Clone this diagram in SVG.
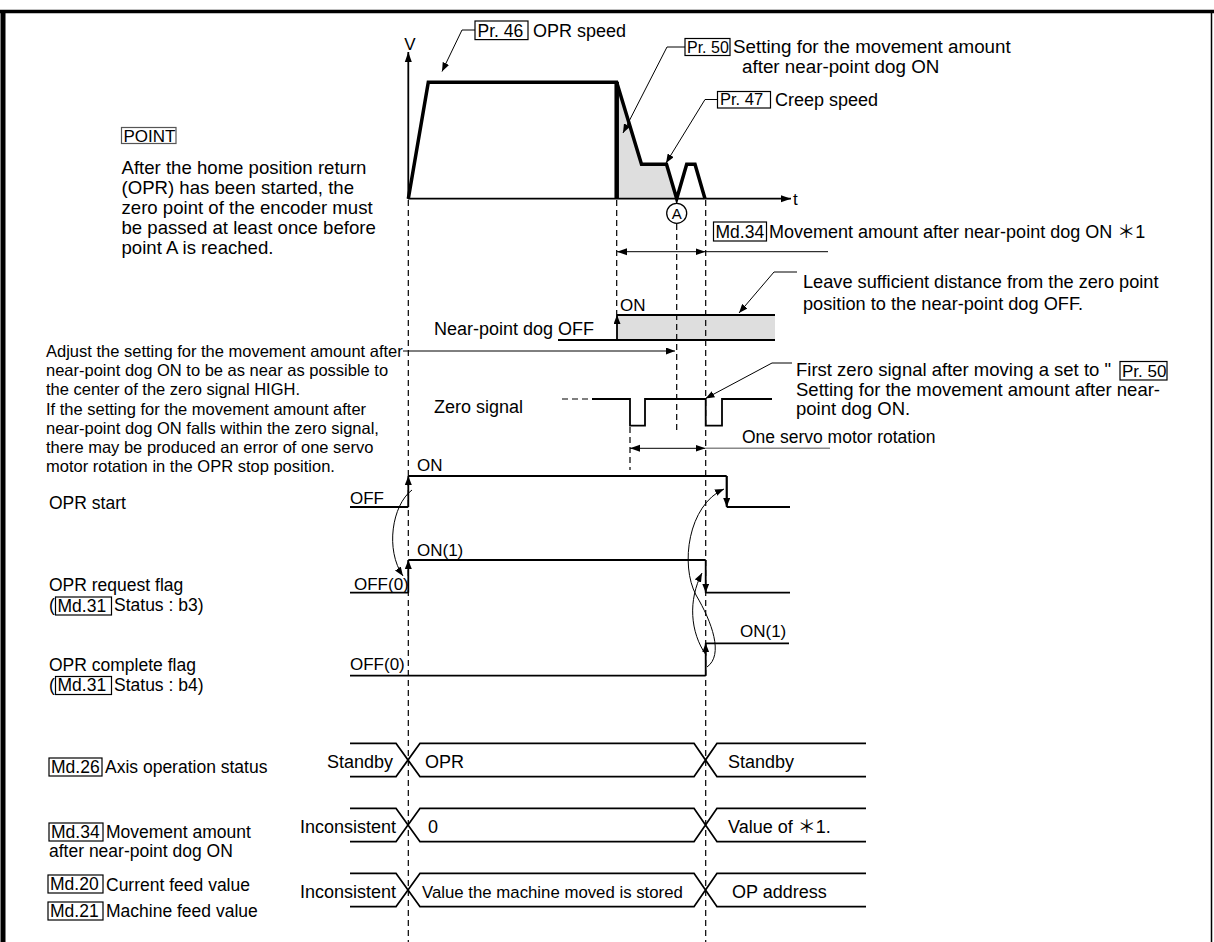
<svg xmlns="http://www.w3.org/2000/svg" width="1214" height="942" viewBox="0 0 1214 942" font-size="17.5">
<defs>
<style>
text{font-family:"Liberation Sans",Arial,"Noto Sans CJK JP",sans-serif;fill:#000}
.s{fill:none;stroke:#000;stroke-width:1.8}
.thin{fill:none;stroke:#000;stroke-width:1}
.dash{fill:none;stroke:#000;stroke-width:1.2;stroke-dasharray:6 4}
.box{fill:#fff;stroke:#000;stroke-width:1.2}
.prof{fill:none;stroke:#000;stroke-width:3.5;stroke-linejoin:miter}
.gray{fill:#dedede;stroke:none}
</style>
<marker id="ah" markerUnits="userSpaceOnUse" markerWidth="10" markerHeight="8" refX="10" refY="4" orient="auto-start-reverse"><path d="M0,0.5 L10,4 L0,7.5 z" fill="#000"/></marker>
<marker id="sa" markerUnits="userSpaceOnUse" markerWidth="9" markerHeight="7" refX="9" refY="3.5" orient="auto"><path d="M0,0 L9,3.5 L0,7 z" fill="#000"/></marker>
</defs>
<rect width="1214" height="942" fill="#fff"/>
<g id="frame">
<line x1="0" y1="11.5" x2="1214" y2="11.5" stroke="#000" stroke-width="3.5"/>
<line x1="3" y1="10" x2="3" y2="942" stroke="#000" stroke-width="5"/>
<line x1="1211.5" y1="11" x2="1211.5" y2="942" stroke="#000" stroke-width="1.5"/>
</g>

<g id="speed-chart">
<polygon class="gray" points="617,84 641.5,164.3 666.5,164.3 676.7,198.7 617,198.7"/>
<line class="s" x1="408.3" y1="199" x2="408.3" y2="52" stroke-width="1.5" marker-end="url(#ah)"/>
<line class="s" x1="408" y1="198.7" x2="791" y2="198.7" stroke-width="1.5" marker-end="url(#ah)"/>
<text x="410" y="50" text-anchor="middle" font-size="17">V</text>
<text x="793" y="205" font-size="17">t</text>
<polyline class="prof" points="408.3,198.7 428.3,82.3 616.7,82.3 641.5,164.3 666.5,164.3 676.7,198.7 686.7,164.3 695,164.3 705,198.7"/>
<line x1="616.7" y1="82" x2="616.7" y2="199" stroke="#000" stroke-width="4.5"/>
<circle cx="676.7" cy="213.3" r="10" fill="#fff" stroke="#000" stroke-width="1.3"/>
<text x="676.7" y="219" text-anchor="middle" font-size="15">A</text>
</g>

<g id="label-pr46">
<rect class="box" x="475" y="21" width="53" height="18.6"/>
<text x="477.5" y="36.5" font-size="17.5">Pr. 46</text>
<text x="533" y="37" font-size="18">OPR speed</text>
<polyline class="thin" points="475,30 462,30 442,71.5" marker-end="url(#sa)"/>
</g>

<g id="label-pr50">
<rect class="box" x="685" y="38.5" width="45" height="17"/>
<text x="687" y="52.5" font-size="16">Pr. 50</text>
<text x="733" y="53" font-size="18.8">Setting for the movement amount</text>
<text x="742" y="73" font-size="18.8">after near-point dog ON</text>
<polyline class="thin" points="685,47 667,47 623,133" marker-end="url(#sa)"/>
</g>

<g id="label-pr47">
<rect class="box" x="717.5" y="91.5" width="53" height="16.5"/>
<text x="720" y="105" font-size="16.5">Pr. 47</text>
<text x="775" y="106" font-size="18">Creep speed</text>
<polyline class="thin" points="717.5,99.5 705,99.5 666,163" marker-end="url(#sa)"/>
</g>

<g id="point-note">
<rect x="121.5" y="127.5" width="54.5" height="16" fill="#fff" stroke="#555" stroke-width="1.2"/>
<text x="123.5" y="141.5" font-size="17">POINT</text>
<text x="121.5" y="174" font-size="18.6">After the home position return</text>
<text x="121.5" y="194" font-size="18.6">(OPR) has been started, the</text>
<text x="121.5" y="214" font-size="18.6">zero point of the encoder must</text>
<text x="121.5" y="234" font-size="18.6">be passed at least once before</text>
<text x="121.5" y="254" font-size="18.6">point A is reached.</text>
</g>

<g id="md34-dimension">
<rect class="box" x="713.5" y="222" width="53" height="19"/>
<text x="715.5" y="237.5" font-size="17.5">Md.34</text>
<text x="769" y="238" font-size="18">Movement amount after near-point dog ON ＊1</text>
</g>

<g id="note-leave">
<text x="803" y="288" font-size="18.2">Leave sufficient distance from the zero point</text>
<text x="803" y="310" font-size="18.2">position to the near-point dog OFF.</text>
</g>

<g id="near-point-dog">
<text x="434" y="335" font-size="18">Near-point dog OFF</text>
<rect class="gray" x="617" y="315" width="158" height="25"/>
<line class="s" x1="617" y1="315" x2="775" y2="315" stroke-width="1.5"/>
<line class="s" x1="558" y1="340" x2="775" y2="340" stroke-width="1.5"/>
<text x="620" y="311" font-size="17">ON</text>
</g>

<g id="note-adjust">
<text x="46" y="357" font-size="16.5">Adjust the setting for the movement amount after</text>
<text x="46" y="376.2" font-size="16.5">near-point dog ON to be as near as possible to</text>
<text x="46" y="395.4" font-size="16.5">the center of the zero signal HIGH.</text>
<text x="46" y="414.6" font-size="16.5">If the setting for the movement amount after</text>
<text x="46" y="433.8" font-size="16.5">near-point dog ON falls within the zero signal,</text>
<text x="46" y="453" font-size="16.5">there may be produced an error of one servo</text>
<text x="46" y="472.2" font-size="16.5">motor rotation in the OPR stop position.</text>
</g>

<g id="zero-signal">
<text x="434" y="413" font-size="18">Zero signal</text>
<line class="dash" x1="562" y1="399" x2="592" y2="399" stroke-width="1.3"/>
<polyline class="s" stroke-width="2.2" points="592,399 630,399 630,425.7 645,425.7 645,399 705.7,399 705.7,425.7 722,425.7 722,399 772,399"/>
</g>

<g id="note-first-zero">
<text x="796" y="376" font-size="18.5">First zero signal after moving a set to " </text>
<rect class="box" x="1120" y="361.5" width="47" height="18.5"/>
<text x="1122" y="376.5" font-size="17">Pr. 50</text>
<text x="796" y="395.5" font-size="18.5">Setting for the movement amount after near-</text>
<text x="796" y="415" font-size="18.5">point dog ON.</text>
</g>

<g id="label-one-rotation">
<text x="742" y="443" font-size="17.5">One servo motor rotation</text>
</g>

<g id="opr-start">
<text x="49" y="509" font-size="17.5">OPR start</text>
<text x="350" y="503.5" font-size="17">OFF</text>
<text x="417" y="471" font-size="17">ON</text>
<polyline class="s" points="350,507 408.3,507"/>
<polyline class="s" points="726.7,476 726.7,506"/>
<polyline class="s" points="408.3,476 726.7,476"/>
<polyline class="s" points="726.7,507 790,507"/>
</g>

<g id="opr-request-flag">
<text x="49" y="591" font-size="17.5">OPR request flag</text>
<text x="49" y="611" font-size="17.5">(</text>
<rect class="box" x="55.5" y="597" width="56" height="18"/>
<text x="57.5" y="611.5" font-size="17.5">Md.31</text>
<text x="114" y="611" font-size="17.5">Status : b3)</text>
<text x="354" y="589.5" font-size="17">OFF(0)</text>
<text x="417" y="556" font-size="17">ON(1)</text>
<polyline class="s" points="350,592.7 408.3,592.7"/>
<polyline class="s" points="408.3,560 705.7,560"/>
<polyline class="s" points="705.7,592.7 790,592.7"/>
</g>

<g id="opr-complete-flag">
<text x="49" y="671" font-size="17.5">OPR complete flag</text>
<text x="49" y="690.5" font-size="17.5">(</text>
<rect class="box" x="55.5" y="676.5" width="56" height="18"/>
<text x="57.5" y="691" font-size="17.5">Md.31</text>
<text x="114" y="690.5" font-size="17.5">Status : b4)</text>
<text x="350" y="670" font-size="17">OFF(0)</text>
<text x="740" y="637" font-size="17">ON(1)</text>
<polyline class="s" points="350,675.7 705.7,675.7"/>
<polyline class="s" points="705.7,643.3 789,643.3"/>
</g>

<g id="row-md26">
<rect class="box" x="49" y="758" width="53" height="18"/>
<text x="51" y="772.5" font-size="17.5">Md.26</text>
<text x="105" y="773" font-size="17.5">Axis operation status</text>
<path class="s" d="M350,743.3 H396 L420,776.7 H694 L717,743.3 H866 M350,776.7 H396 L420,743.3 H694 L717,776.7 H866"/>
<text x="393" y="768" font-size="18" text-anchor="end">Standby</text>
<text x="425" y="768" font-size="18">OPR</text>
<text x="728" y="768" font-size="18">Standby</text>
</g>

<g id="row-md34">
<rect class="box" x="49" y="823" width="54" height="18"/>
<text x="51" y="837.5" font-size="17.5">Md.34</text>
<text x="106" y="838" font-size="17.5">Movement amount</text>
<text x="49" y="857" font-size="17.5">after near-point dog ON</text>
<path class="s" d="M350,808.3 H396 L420,841.7 H694 L717,808.3 H866 M350,841.7 H396 L420,808.3 H694 L717,841.7 H866"/>
<text x="396" y="833" font-size="18" text-anchor="end">Inconsistent</text>
<text x="428" y="833" font-size="18">0</text>
<text x="728" y="833" font-size="18">Value of ＊1.</text>
</g>

<g id="row-md20-21">
<rect class="box" x="48" y="875" width="55" height="18"/>
<text x="50" y="889.5" font-size="17.5">Md.20</text>
<text x="106" y="891" font-size="17.5">Current feed value</text>
<rect class="box" x="48" y="902" width="55" height="18"/>
<text x="50" y="916.5" font-size="17.5">Md.21</text>
<text x="106" y="917" font-size="17.5">Machine feed value</text>
<path class="s" d="M350,873.3 H396 L420,906.7 H694 L717,873.3 H866 M350,906.7 H396 L420,873.3 H694 L717,906.7 H866"/>
<text x="396" y="898" font-size="18" text-anchor="end">Inconsistent</text>
<text x="422" y="898" font-size="16.8">Value the machine moved is stored</text>
<text x="732" y="898" font-size="18">OP address</text>
</g>

<g id="connectors">
<line class="dash" x1="408.3" y1="200" x2="408.3" y2="942"/>
<line class="dash" x1="616.7" y1="200" x2="616.7" y2="315"/>
<line class="dash" x1="676.7" y1="224" x2="676.7" y2="431"/>
<line class="dash" x1="705.7" y1="200" x2="705.7" y2="942"/>
<line class="dash" x1="630" y1="427" x2="630" y2="470"/>
<line class="thin" x1="617" y1="251.7" x2="705.5" y2="251.7" marker-start="url(#ah)" marker-end="url(#ah)" stroke-width="1.3"/>
<line class="thin" x1="705.5" y1="251.7" x2="828" y2="251.7" stroke-width="1.3"/>
<polyline class="thin" points="797,272 774,272 739,313" marker-end="url(#sa)"/>
<line class="s" x1="617" y1="340" x2="617" y2="315" stroke-width="1.5" marker-end="url(#sa)"/>
<line class="thin" x1="403" y1="351" x2="675" y2="351" stroke-width="1.3" marker-end="url(#sa)"/>
<polyline class="thin" points="792,363 772,363 705.5,398.5" marker-end="url(#sa)"/>
<line class="thin" x1="630" y1="448.3" x2="705.5" y2="448.3" marker-start="url(#ah)" marker-end="url(#ah)" stroke-width="1.3"/>
<line x1="705.5" y1="448.3" x2="830" y2="448.3" stroke="#888" stroke-width="1.5"/>
<line class="s" x1="408.3" y1="507" x2="408.3" y2="476" marker-end="url(#sa)"/>
<line class="s" x1="726.7" y1="476" x2="726.7" y2="507" marker-end="url(#sa)"/>
<line class="s" x1="408.3" y1="592.7" x2="408.3" y2="560" marker-end="url(#sa)"/>
<line class="s" x1="705.7" y1="560" x2="705.7" y2="592.7" marker-end="url(#sa)"/>
<line class="s" x1="705.7" y1="675.7" x2="705.7" y2="643.3" marker-end="url(#sa)"/>
<path class="thin" d="M412,490 C392,505 385,550 403,576" marker-end="url(#sa)"/>
<path class="thin" d="M707,667 C724,655 712,622 696,595 C680,565 688,505 724,489" marker-end="url(#sa)"/>
<path class="thin" d="M706,655 C690,632 688,600 702,573" marker-end="url(#sa)"/>
</g>
</svg>
